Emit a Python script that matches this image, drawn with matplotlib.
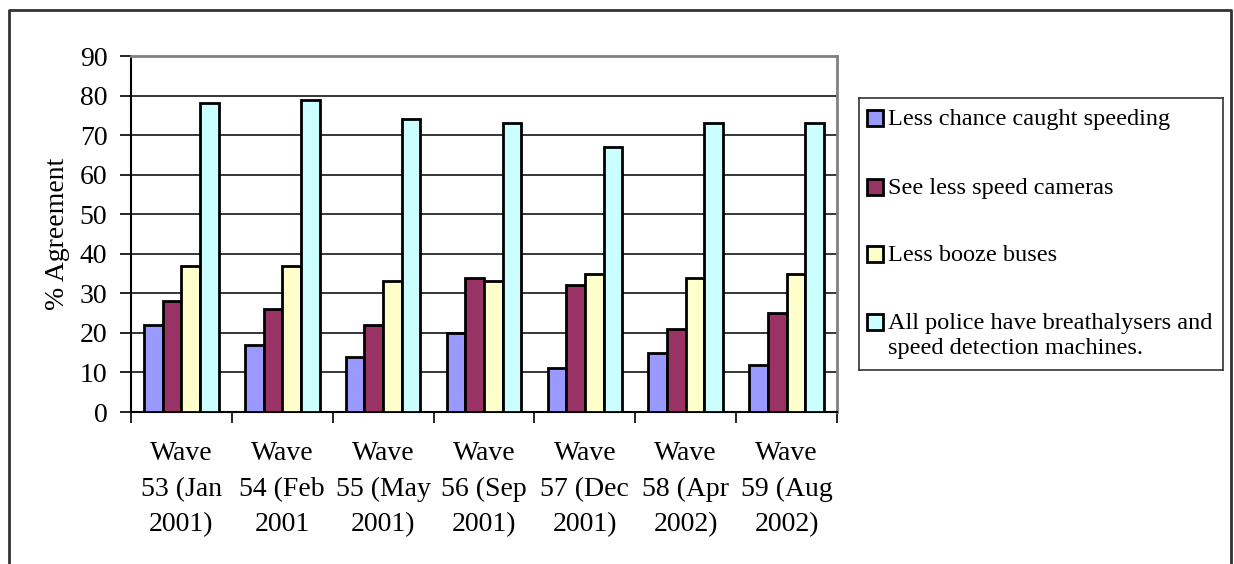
import numpy as np
import matplotlib.pyplot as plt
from matplotlib.patches import Rectangle
from matplotlib.lines import Line2D

plt.rcParams['font.family'] = ['Liberation Serif', 'DejaVu Serif']

waves = ["Wave\n53 (Jan\n2001)", "Wave\n54 (Feb\n2001", "Wave\n55 (May\n2001)",
         "Wave\n56 (Sep\n2001)", "Wave\n57 (Dec\n2001)", "Wave\n58 (Apr\n2002)",
         "Wave\n59 (Aug\n2002)"]
series_names = ["Less chance caught speeding", "See less speed cameras",
                "Less booze buses",
                "All police have breathalysers and\nspeed detection machines."]
caught_speeding = [22, 17, 14, 20, 11, 15, 12]
speed_cameras = [28, 26, 22, 34, 32, 21, 25]
booze_buses = [37, 37, 33, 33, 35, 34, 35]
breathalysers = [78, 79, 74, 73, 67, 73, 73]
colors = ["#9999FF", "#993366", "#FFFFCC", "#CCFFFF"]

W, H = 1234, 564
fig = plt.figure(figsize=(W / 100, H / 100), dpi=100)

# outer chart frame (open at the bottom)
frame = Line2D([9 / W, 9 / W, 1231 / W, 1231 / W], [0, 1 - 10 / H, 1 - 10 / H, 0],
               transform=fig.transFigure, color="#333333", lw=2)
fig.add_artist(frame)

ax = fig.add_axes([131 / W, 1 - 412 / H, (837 - 131) / W, (412 - 56) / H])

data = [caught_speeding, speed_cameras, booze_buses, breathalysers]
n = len(waves)
x = np.arange(n) + 0.5
bw = 0.185
for i, (vals, c) in enumerate(zip(data, colors)):
    ax.bar(x + (i - 1.5) * bw, vals, bw, color=c, edgecolor="black", linewidth=2,
           zorder=3)

ax.set_xlim(0, n)
ax.set_ylim(0, 90)
ax.set_yticks(range(0, 91, 10))
ax.set_xticks(range(0, n + 1))
ax.set_xticklabels([])
ax.set_xticks(x, minor=True)
ax.set_xticklabels(waves, minor=True, fontsize=20, linespacing=1.55)
ax.tick_params(axis="x", which="minor", length=0, pad=21)
ax.tick_params(axis="x", which="major", length=8, width=1.2, direction="out")
ax.tick_params(axis="y", length=8, width=1.2, direction="out", labelsize=20, pad=9)

ax.grid(axis="y", color="black", lw=1.1, zorder=0)
for s in ["top", "right"]:
    ax.spines[s].set_color("#808080")
    ax.spines[s].set_linewidth(2)
ax.spines["left"].set_linewidth(1.5)
ax.spines["bottom"].set_linewidth(1.5)
ax.set_ylabel("% Agreement", fontsize=20)
ax.yaxis.set_label_coords(-61 / 706, 0.5)

# legend box with squares aligned to the first line of each label
lax = fig.add_axes([859 / W, 1 - 370 / H, (1223 - 859) / W, (370 - 98) / H])
lax.set_xlim(0, 1223 - 859)
lax.set_ylim(370 - 98, 0)
lax.set_xticks([])
lax.set_yticks([])
for s in lax.spines.values():
    s.set_color("#333333")
    s.set_linewidth(1.2)
rows = [20, 89, 156, 224]
for name, c, ry in zip(series_names, colors, rows):
    lax.add_patch(Rectangle((8, ry - 8), 16, 16, facecolor=c, edgecolor="black", lw=2))
    lax.text(29, ry - 9, name, fontsize=17.5, va="top", ha="left",
             linespacing=1.25)

fig.savefig("out.png", dpi=100)
